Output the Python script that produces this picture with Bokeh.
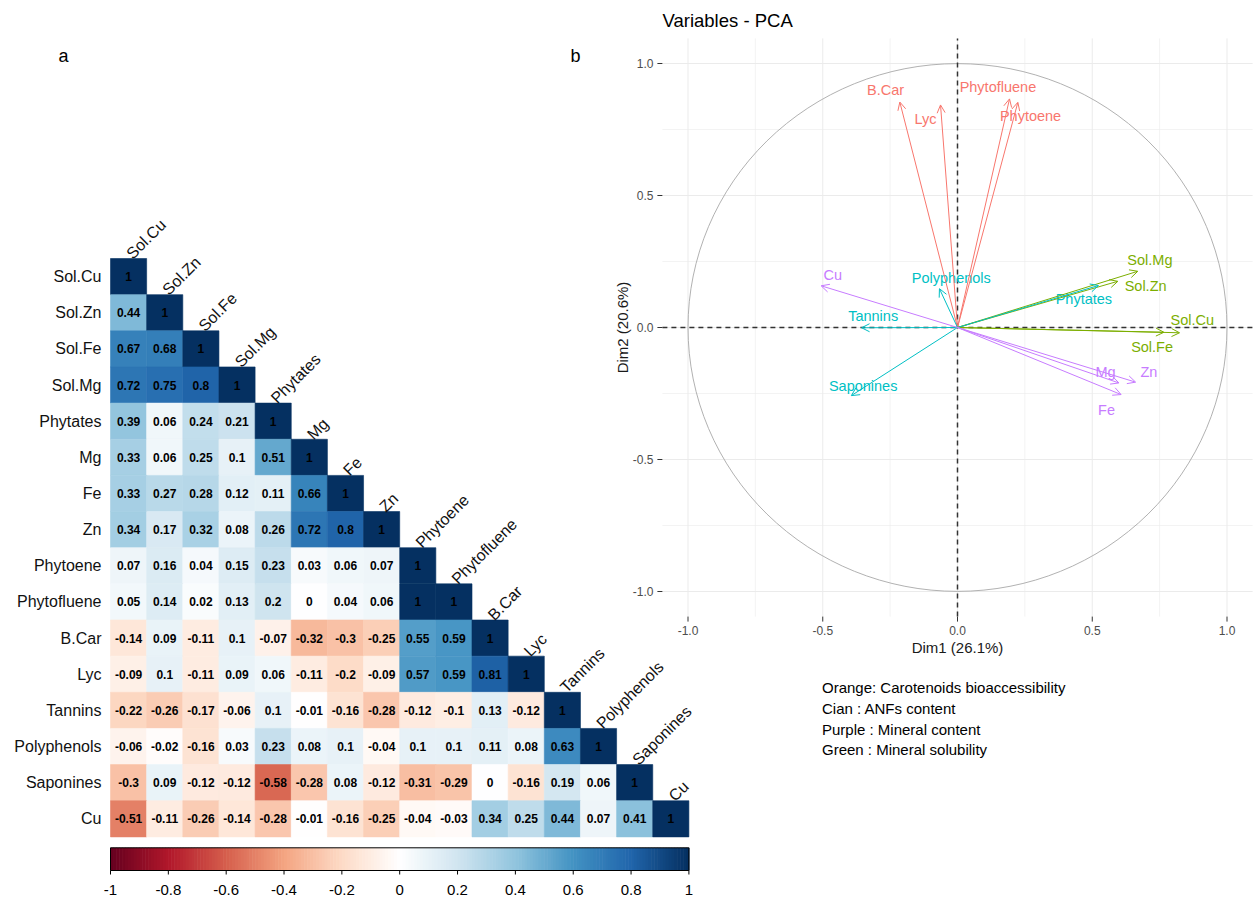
import numpy as np
from bokeh.plotting import figure
from bokeh.models import Range1d, ColumnDataSource, Arrow, OpenHead
from bokeh.transform import linear_cmap
from bokeh.core.properties import value
from bokeh.embed import file_html
from bokeh.resources import INLINE

# ---------------- data ----------------
variables = ["Sol.Cu", "Sol.Zn", "Sol.Fe", "Sol.Mg", "Phytates", "Mg", "Fe", "Zn",
             "Phytoene", "Phytofluene", "B.Car", "Lyc", "Tannins", "Polyphenols",
             "Saponines", "Cu"]

corr_rows = [
    [1],
    [0.44, 1],
    [0.67, 0.68, 1],
    [0.72, 0.75, 0.8, 1],
    [0.39, 0.06, 0.24, 0.21, 1],
    [0.33, 0.06, 0.25, 0.1, 0.51, 1],
    [0.33, 0.27, 0.28, 0.12, 0.11, 0.66, 1],
    [0.34, 0.17, 0.32, 0.08, 0.26, 0.72, 0.8, 1],
    [0.07, 0.16, 0.04, 0.15, 0.23, 0.03, 0.06, 0.07, 1],
    [0.05, 0.14, 0.02, 0.13, 0.2, 0, 0.04, 0.06, 1, 1],
    [-0.14, 0.09, -0.11, 0.1, -0.07, -0.32, -0.3, -0.25, 0.55, 0.59, 1],
    [-0.09, 0.1, -0.11, 0.09, 0.06, -0.11, -0.2, -0.09, 0.57, 0.59, 0.81, 1],
    [-0.22, -0.26, -0.17, -0.06, 0.1, -0.01, -0.16, -0.28, -0.12, -0.1, 0.13, -0.12, 1],
    [-0.06, -0.02, -0.16, 0.03, 0.23, 0.08, 0.1, -0.04, 0.1, 0.1, 0.11, 0.08, 0.63, 1],
    [-0.3, 0.09, -0.12, -0.12, -0.58, -0.28, 0.08, -0.12, -0.31, -0.29, 0, -0.16, 0.19, 0.06, 1],
    [-0.51, -0.11, -0.26, -0.14, -0.28, -0.01, -0.16, -0.25, -0.04, -0.03, 0.34, 0.25, 0.44, 0.07, 0.41, 1],
]

cbar_ticks = [-1, -0.8, -0.6, -0.4, -0.2, 0, 0.2, 0.4, 0.6, 0.8, 1]
cbar_tick_labels = ["-1", "-0.8", "-0.6", "-0.4", "-0.2", "0", "0.2", "0.4", "0.6", "0.8", "1"]

pca_names = ["B.Car", "Lyc", "Phytofluene", "Phytoene",
             "Sol.Mg", "Sol.Zn", "Sol.Cu", "Sol.Fe",
             "Polyphenols", "Tannins", "Saponines", "Phytates",
             "Cu", "Mg", "Zn", "Fe"]
pca_group = [0, 0, 0, 0, 1, 1, 1, 1, 2, 2, 2, 2, 3, 3, 3, 3]
pca_dim1 = [-0.214, -0.063, 0.193, 0.224,
            0.669, 0.595, 0.824, 0.766,
            -0.067, -0.356, -0.394, 0.523,
            -0.506, 0.599, 0.661, 0.607]
pca_dim2 = [0.854, 0.843, 0.866, 0.853,
            0.213, 0.175, -0.020, -0.018,
            0.147, -0.001, -0.258, 0.159,
            0.158, -0.210, -0.207, -0.254]
pca_label_x = [-0.267, -0.119, 0.150, 0.271,
               0.714, 0.698, 0.871, 0.722,
               -0.023, -0.313, -0.350, 0.469,
               -0.463, 0.549, 0.710, 0.553]
pca_label_y = [0.900, 0.790, 0.910, 0.803,
               0.254, 0.157, 0.027, -0.072,
               0.188, 0.042, -0.220, 0.109,
               0.200, -0.169, -0.169, -0.314]

group_colors = ["#F8766D", "#7CAE00", "#00BFC4", "#C77CFF"]

axis_ticks = [-1.0, -0.5, 0.0, 0.5, 1.0]
axis_tick_labels = ["-1.0", "-0.5", "0.0", "0.5", "1.0"]
minor_ticks = [-0.75, -0.25, 0.25, 0.75]

legend_lines = ["Orange: Carotenoids bioaccessibility",
                "Cian : ANFs content",
                "Purple : Mineral content",
                "Green : Mineral solubility"]

# ---------------- layout constants (figure pixels) ----------------
W, H = 1259, 900
FONT = value("Liberation Sans")

cell = 36.15
cell_left = 110
cell_top = 258
hx0 = -cell_left / cell - 0.5
hx1 = hx0 + W / cell
hy1 = 0.5 + cell_top / cell
hy0 = 0.5 - (H - cell_top) / cell

pca_x0, pca_kx = 957, 269.5
pca_y0, pca_ky = 327, 264.0
pca_lim = 1.095

cb_left, cb_k = 110, 578.4 / 2

p = figure(width=W, height=H, output_backend="svg", toolbar_location=None,
           x_range=Range1d(hx0, hx1), y_range=Range1d(hy0, hy1),
           x_axis_location=None, y_axis_location=None,
           min_border=0, min_border_left=0, min_border_right=0,
           min_border_top=0, min_border_bottom=0)
p.outline_line_color = None
p.grid.visible = False
p.background_fill_color = "white"

p.extra_x_ranges = {
    "px": Range1d(-pca_x0 / pca_kx, (W - pca_x0) / pca_kx),
    "cbx": Range1d(-1 - cb_left / cb_k, -1 + (W - cb_left) / cb_k),
    "sx": Range1d(0, W),
}
p.extra_y_ranges = {
    "py": Range1d((pca_y0 - H) / pca_ky, pca_y0 / pca_ky),
    "sy": Range1d(H, 0),
}

# ---------------- correlation heatmap ----------------
anchors = ["#67001F", "#B2182B", "#D6604D", "#F4A582", "#FDDBC7", "#FFFFFF",
           "#D1E5F0", "#92C5DE", "#4393C3", "#2166AC", "#053061"]


def hex2rgb(h):
    return np.array([int(h[i:i + 2], 16) for i in (1, 3, 5)], dtype=float)


arr = np.array([hex2rgb(c) for c in anchors])
pos = np.linspace(0, 1, len(anchors))
tt = np.linspace(0, 1, 200)
pal = []
for t in tt:
    rgb = [np.interp(t, pos, arr[:, k]) for k in range(3)]
    pal.append("#%02x%02x%02x" % tuple(int(round(c)) for c in rgb))

cx, cy, cv, ct = [], [], [], []
for i, row in enumerate(corr_rows):
    for j, v in enumerate(row):
        cx.append(j)
        cy.append(-i)
        cv.append(v)
        ct.append(f"{v:g}")
src = ColumnDataSource(dict(x=cx, y=cy, v=cv, t=ct))
cmap = linear_cmap("v", pal, -1, 1)
p.rect(x="x", y="y", width=1, height=1, source=src, fill_color=cmap,
       line_color=cmap, line_width=0.6)
p.text(x="x", y="y", text="t", source=src, text_font=FONT, text_font_style="bold",
       text_font_size="12px", text_align="center", text_baseline="middle",
       text_color="black")

# row labels
p.text(x=[-0.5 - 9 / cell] * len(variables), y=[-i for i in range(len(variables))],
       text=variables, text_font=FONT, text_font_size="16px", text_align="right",
       text_baseline="middle", text_color="#111111")
# column labels (diagonal), baseline just above each diagonal cell
p.text(x=[j + 0.5 / cell for j in range(len(variables))],
       y=[-j + 0.5 + 2.5 / cell for j in range(len(variables))],
       text=variables, angle=np.pi / 4, text_font=FONT, text_font_size="16px",
       text_align="left", text_baseline="alphabetic", text_color="#111111")

# colour bar
edges = np.linspace(-1, 1, 201)
mids = (edges[:-1] + edges[1:]) / 2
cb_top, cb_bot = 847.3, 870
cb_src = ColumnDataSource(dict(l=edges[:-1], r=edges[1:] + 0.002, m=mids))
p.quad(left="l", right="r", top=cb_top, bottom=cb_bot, source=cb_src,
       fill_color=linear_cmap("m", pal, -1, 1), line_color=None,
       x_range_name="cbx", y_range_name="sy")
p.quad(left=-1, right=1, top=cb_top, bottom=cb_bot, fill_color=None,
       line_color="black", line_width=1, x_range_name="cbx", y_range_name="sy")
p.segment(x0=cbar_ticks, x1=cbar_ticks, y0=[cb_bot] * len(cbar_ticks),
          y1=[cb_bot + 4] * len(cbar_ticks), line_color="black", line_width=1,
          x_range_name="cbx", y_range_name="sy")
p.text(x=cbar_ticks, y=[889] * len(cbar_ticks), text=cbar_tick_labels,
       text_font=FONT, text_font_size="15px", text_align="center",
       text_baseline="middle", text_color="black",
       x_range_name="cbx", y_range_name="sy")

# panel letters
p.text(x=[63, 575], y=[55, 55], text=["a", "b"],
       text_font=FONT, text_font_size="18px", text_align="center",
       text_baseline="middle", text_color="black", x_range_name="sx", y_range_name="sy")

# ---------------- PCA variables plot ----------------
all_grid = axis_ticks + minor_ticks
grid_w = [1.0] * len(axis_ticks) + [0.6] * len(minor_ticks)
n = len(all_grid)
p.segment(x0=all_grid, x1=all_grid, y0=[-pca_lim] * n, y1=[pca_lim] * n,
          line_color="#ebebeb", line_width=grid_w, x_range_name="px", y_range_name="py")
p.segment(x0=[-pca_lim] * n, x1=[pca_lim] * n, y0=all_grid, y1=all_grid,
          line_color="#ebebeb", line_width=grid_w, x_range_name="px", y_range_name="py")

# unit circle
p.ellipse(x=0, y=0, width=2, height=2, fill_color=None, line_color="#a8a8a8",
          line_width=0.9, x_range_name="px", y_range_name="py")

# dashed zero lines
p.segment(x0=[-pca_lim, 0], x1=[pca_lim, 0], y0=[0, -pca_lim], y1=[0, pca_lim],
          line_color="#333333", line_width=1.5, line_dash="5 4",
          x_range_name="px", y_range_name="py")

# ticks + tick labels
nt = len(axis_ticks)
tick_px = 5 / pca_kx
tick_py = 5 / pca_ky
p.segment(x0=[-pca_lim] * nt, x1=[-pca_lim - tick_px] * nt, y0=axis_ticks, y1=axis_ticks,
          line_color="#333333", line_width=1, x_range_name="px", y_range_name="py")
p.segment(x0=axis_ticks, x1=axis_ticks, y0=[-pca_lim] * nt, y1=[-pca_lim - tick_py] * nt,
          line_color="#333333", line_width=1, x_range_name="px", y_range_name="py")
p.text(x=[-pca_lim - 9 / pca_kx] * nt, y=axis_ticks, text=axis_tick_labels,
       text_font=FONT, text_font_size="12px", text_align="right", text_baseline="middle",
       text_color="#4d4d4d", x_range_name="px", y_range_name="py")
p.text(x=axis_ticks, y=[-pca_lim - 14 / pca_ky] * nt, text=axis_tick_labels,
       text_font=FONT, text_font_size="12px", text_align="center", text_baseline="middle",
       text_color="#4d4d4d", x_range_name="px", y_range_name="py")

# axis titles + title
p.text(x=[957], y=[647], text=["Dim1 (26.1%)"], text_font=FONT,
       text_font_size="15px", text_align="center", text_baseline="middle",
       text_color="#1a1a1a", x_range_name="sx", y_range_name="sy")
p.text(x=[621.5], y=[327], text=["Dim2 (20.6%)"], angle=np.pi / 2,
       text_font=FONT, text_font_size="15px", text_align="center",
       text_baseline="middle", text_color="#1a1a1a", x_range_name="sx", y_range_name="sy")
p.text(x=[662], y=[19.5], text=["Variables - PCA"], text_font=FONT,
       text_font_size="18.5px", text_align="left", text_baseline="middle",
       text_color="black", x_range_name="sx", y_range_name="sy")

# arrows and labels per group
for g, col in enumerate(group_colors):
    idx = [k for k in range(len(pca_names)) if pca_group[k] == g]
    s = ColumnDataSource(dict(x=[pca_dim1[k] for k in idx], y=[pca_dim2[k] for k in idx]))
    p.add_layout(Arrow(x_start=0, y_start=0, x_end="x", y_end="y", source=s,
                       line_color=col, line_width=1,
                       end=OpenHead(size=8, line_color=col, line_width=1),
                       x_range_name="px", y_range_name="py"))
    p.text(x=[pca_label_x[k] for k in idx], y=[pca_label_y[k] for k in idx],
           text=[pca_names[k] for k in idx], text_font=FONT, text_font_size="14.5px",
           text_align="center", text_baseline="middle", text_color=col,
           x_range_name="px", y_range_name="py")

# group legend text
p.text(x=[821.5] * len(legend_lines),
       y=[686.7 + 20.9 * k for k in range(len(legend_lines))],
       text=legend_lines, text_font=FONT, text_font_size="15px", text_align="left",
       text_baseline="middle", text_color="black", x_range_name="sx", y_range_name="sy")

open("out.html", "w").write(file_html(p, INLINE))
